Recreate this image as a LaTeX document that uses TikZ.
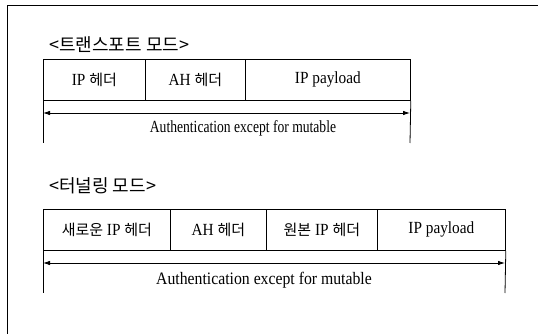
\documentclass[tikz,border=0pt]{standalone}
\usepackage{fontspec}
\setmainfont[FakeStretch=0.9]{Liberation Serif}
\newfontfamily\ntA[FakeStretch=0.8]{Liberation Serif}
\newfontfamily\kr{Noto Sans CJK KR}
\newcommand{\hk}[1]{{\kr\fontsize{15}{16}\selectfont #1}}
\usetikzlibrary{arrows.meta}
\begin{document}
\begin{tikzpicture}[x=1pt,y=-1pt,
  cell/.style={draw, line width=0.8pt, minimum height=41pt, inner sep=0pt, anchor=north west, font=\fontsize{17}{18}\selectfont},
  span/.style={{Latex[length=7pt,width=4.5pt]}-{Latex[length=7pt,width=4.5pt]}, line width=0.8pt},
  tick/.style={line width=0.8pt},
  title/.style={anchor=west, inner sep=0pt, font=\kr\fontsize{18}{20}\selectfont},
  note/.style={inner sep=0pt, font=\fontsize{17.5}{18}\selectfont},
  noteA/.style={inner sep=0pt, font=\ntA\fontsize{17}{18}\selectfont}]
\useasboundingbox (0,0) rectangle (538,334);
% frame
\coordinate (fa) at (7,334);
\coordinate (fb) at (7,5);
\coordinate (fc) at (538,5);
\draw[line width=0.9pt] (fa) -- (fb) -- (fc);
% transport mode
\node[title] (t1) at (49,45) {<트랜스포트 모드>};
\node[cell, minimum width=102pt] (a1) at (43,59) {IP \hk{헤더}};
\node[cell, minimum width=100pt] (a2) at (145,59) {AH \hk{헤더}};
\node[cell, minimum width=165pt] (a3) at (245,59) {IP payload};
\coordinate (l1) at (43,143);
\coordinate (r1) at (410,143);
\draw[tick] (a1.south west) -- (l1);
\draw[tick] (a3.south east) -- (r1);
\coordinate (la1) at (43,113);
\coordinate (ra1) at (410,113);
\draw[span] (la1) -- (ra1);
\node[noteA] (n1) at (243,128) {Authentication except for mutable};
% tunnel mode
\node[title] (t2) at (49,186) {<터널링 모드>};
\node[cell, minimum width=127pt] (b1) at (43,209) {\hk{새로운} IP \hk{헤더}};
\node[cell, minimum width=96pt] (b2) at (170,209) {AH \hk{헤더}};
\node[cell, minimum width=111pt] (b3) at (266,209) {\hk{원본} IP \hk{헤더}};
\node[cell, minimum width=128pt] (b4) at (377,209) {IP payload};
\coordinate (l2) at (43,293);
\coordinate (r2) at (505,293);
\draw[tick] (b1.south west) -- (l2);
\draw[tick] (b4.south east) -- (r2);
\coordinate (la2) at (43,263);
\coordinate (ra2) at (505,263);
\draw[span] (la2) -- (ra2);
\node[note] (n2) at (264,280) {Authentication except for mutable};
\end{tikzpicture}
\end{document}
